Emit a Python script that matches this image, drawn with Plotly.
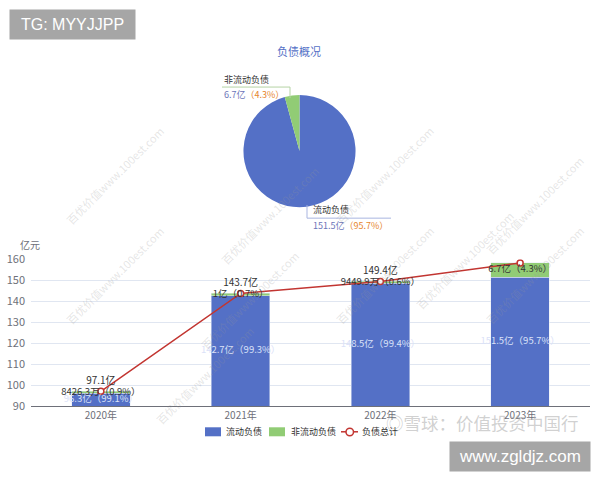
import plotly.graph_objects as go

# data
years = ["2020年", "2021年", "2022年", "2023年"]
current = [96.3, 142.7, 148.5, 151.5]          # 流动负债 (亿)
noncurrent = [0.84263, 1.0, 0.94499, 6.7]      # 非流动负债 (亿)
total = [97.1, 143.7, 149.4, 158.2]            # 负债总计 (亿)
current_pct = [99.1, 99.3, 99.4, 95.7]
noncurrent_pct = [0.9, 0.7, 0.6, 4.3]

pie_names = ["流动负债", "非流动负债"]
pie_values = [151.5, 6.7]
pie_pct = [95.7, 4.3]

BLUE = "#5470c6"
GREEN = "#91cc75"
RED = "#c23531"
ORANGE = "#e6862e"
W, H = 600, 480
L, R = 31, 10


def px(x):
    return (x - L) / (W - L - R)


def py(y):
    # screen y -> paper y (the page shot comes out ~9px lower and ~3.4% squeezed)
    return 1 - ((y - 9) / 0.966) / H


def amount(v):
    if v < 1:
        return f"{v * 10000:.1f}万"
    return f"{v:g}亿"


fig = go.Figure()

fig.add_trace(go.Bar(
    x=years, y=current, name="流动负债", marker=dict(color=BLUE),
    width=0.42, hoverinfo="skip"))
fig.add_trace(go.Bar(
    x=years, y=noncurrent, name="非流动负债", marker=dict(color=GREEN),
    width=0.42, hoverinfo="skip"))
fig.add_trace(go.Scatter(
    x=years, y=total, name="负债总计", mode="lines+markers+text",
    line=dict(color=RED, width=1.5),
    marker=dict(size=6, color="white", line=dict(color=RED, width=1.5)),
    text=[f"{v}亿" for v in total], textposition="top center",
    textfont=dict(size=10, color="#333")))

# labels inside bars (centre of the visible part)
fig.add_trace(go.Scatter(
    x=years, y=[(90 + c) / 2 for c in current], mode="text",
    text=[f"{c}亿（{p}%）" for c, p in zip(current, current_pct)],
    textfont=dict(size=9.5, color="#dbe2f8"), hoverinfo="skip"))
fig.add_trace(go.Scatter(
    x=years, y=[c + n / 2 for c, n in zip(current, noncurrent)], mode="text",
    text=[f"{amount(n)}（{p}%）" for n, p in zip(noncurrent, noncurrent_pct)],
    textfont=dict(size=9.5, color="#333"), hoverinfo="skip"))

fig.add_trace(go.Pie(
    labels=pie_names, values=pie_values, sort=False, direction="clockwise",
    rotation=0, marker=dict(colors=[BLUE, GREEN], line=dict(width=0)),
    textinfo="none", hoverinfo="skip",
    domain=dict(x=[px(243), px(356)], y=[py(207), py(95)])))

fig.update_layout(
    width=W, height=H, barmode="stack", showlegend=False,
    margin=dict(l=L, r=R, t=0, b=0),
    paper_bgcolor="white", plot_bgcolor="white",
    font=dict(family="Noto Sans CJK SC", size=11, color="#6e7079"),
    xaxis=dict(domain=[0, 1], showgrid=False, showline=True, linecolor="#6e7079",
               ticks="", tickfont=dict(size=10, color="#6e7079")),
    yaxis=dict(domain=[py(406), py(259)], range=[90, 160], dtick=10,
               gridcolor="#e0e6f1", zeroline=False, showline=False,
               tickfont=dict(size=11, color="#6e7079"), ticklabelstandoff=5),
)

ann = [
    dict(x=px(299), y=py(51), text="负债概况", font=dict(size=11, color=BLUE)),
    dict(x=px(30), y=py(244), text="亿元", font=dict(size=10, color="#6e7079")),
    dict(x=px(222), y=py(79), text="非流动负债", xanchor="left",
         font=dict(size=9, color="#333")),
    dict(x=px(222), y=py(94), xanchor="left", font=dict(size=9),
         text=f"<span style='color:#6b74b8'>{pie_values[1]}亿</span>"
              f"<span style='color:{ORANGE}'>（{pie_pct[1]}%）</span>"),
    dict(x=px(311), y=py(209), text="流动负债", xanchor="left",
         font=dict(size=9, color="#333")),
    dict(x=px(311), y=py(225), xanchor="left", font=dict(size=9),
         text=f"<span style='color:#6b74b8'>{pie_values[0]}亿</span>"
              f"<span style='color:{ORANGE}'>（{pie_pct[0]}%）</span>"),
    # legend texts
    dict(x=px(224), y=py(431.5), text="流动负债", xanchor="left",
         font=dict(size=9, color="#333")),
    dict(x=px(289), y=py(431.5), text="非流动负债", xanchor="left",
         font=dict(size=9, color="#333")),
    dict(x=px(360), y=py(431.5), text="负债总计", xanchor="left",
         font=dict(size=9, color="#333")),
    dict(x=px(72), y=py(24), text="TG: MYYJJPP", bgcolor="#a6a6a6",
         font=dict(family="Liberation Sans", size=16, color="white"),
         width=123, height=27),
    dict(x=px(520), y=py(456), text="www.zgldjz.com", bgcolor="#a6a6a6",
         font=dict(family="Liberation Sans", size=17, color="white"),
         width=138, height=27),
    dict(x=px(482), y=py(422), text="◎雪球：价值投资中国行",
         font=dict(size=17.5, color="rgba(170,170,170,0.55)")),
]
for a in ann:
    a.update(xref="paper", yref="paper", showarrow=False)
    a.setdefault("xanchor", "center")
    a.setdefault("yanchor", "middle")
    fig.add_annotation(**a)

# watermark
for cx, cy in [(60, 120), (215, 160), (440, 120), (590, 150), (60, 330),
               (250, 300), (440, 330), (590, 330), (150, 430), (520, 260)]:
    fig.add_annotation(x=px(cx), y=py(cy), xref="paper", yref="paper",
                       text="百优价值www.100est.com", showarrow=False, textangle=-45,
                       font=dict(size=11, color="rgba(150,150,150,0.25)"))

# pie leader lines
fig.add_shape(type="path", xref="paper", yref="paper",
              path=f"M {px(290)},{py(98)} L {px(290)},{py(87)} L {px(222)},{py(87)}",
              line=dict(color="#b5d3a5", width=1))
fig.add_shape(type="path", xref="paper", yref="paper",
              path=f"M {px(307)},{py(205)} L {px(307)},{py(218)} L {px(391)},{py(218)}",
              line=dict(color="#a9b5e0", width=1))

# legend symbols
fig.add_shape(type="rect", xref="paper", yref="paper", x0=px(205), x1=px(221),
              y0=py(436), y1=py(427), fillcolor=BLUE, line=dict(width=0))
fig.add_shape(type="rect", xref="paper", yref="paper", x0=px(269), x1=px(285),
              y0=py(436), y1=py(427), fillcolor=GREEN, line=dict(width=0))
fig.add_shape(type="line", xref="paper", yref="paper", x0=px(341), x1=px(358),
              y0=py(431.5), y1=py(431.5), line=dict(color=RED, width=1.5))
fig.add_shape(type="circle", xref="paper", yref="paper", x0=px(346), x1=px(353.5),
              y0=py(435.5), y1=py(428), fillcolor="white",
              line=dict(color=RED, width=1.5))

fig.write_html("out.html", config={"displayModeBar": False},
               post_script="document.body.style.margin='0';")
